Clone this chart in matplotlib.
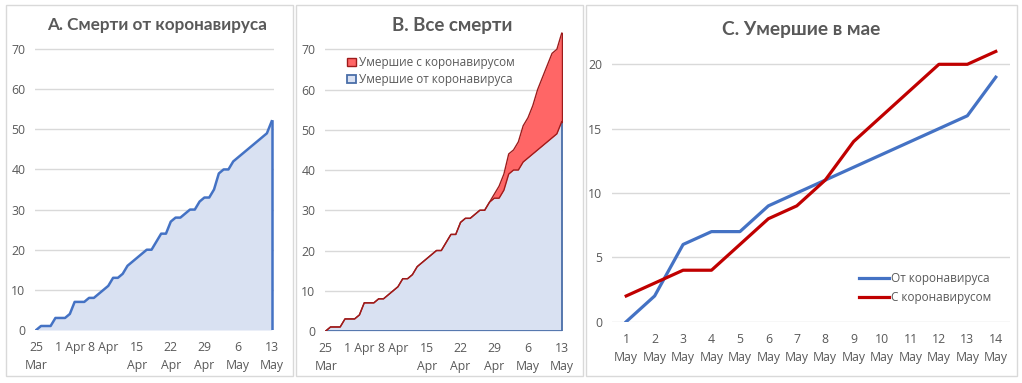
import matplotlib
matplotlib.use("Agg")
import matplotlib.pyplot as plt
from matplotlib.patches import Patch, Rectangle
from matplotlib.lines import Line2D
import numpy as np

# ---------------- data ----------------
# cumulative deaths "from coronavirus", daily 25 Mar .. 13 May
deaths_from = [0, 1, 1, 1, 3, 3, 3, 4, 7, 7, 7, 8, 8, 9, 10, 11, 13, 13, 14, 16,
               17, 18, 19, 20, 20, 22, 24, 24, 27, 28, 28, 29, 30, 30, 32, 33, 33, 35, 39, 40,
               40, 42, 43, 44, 45, 46, 47, 48, 49, 52]
# additional deaths "with coronavirus" (stacked on top in panel B)
deaths_with_extra = [0] * 35 + [1, 3, 4, 5, 5, 7, 9, 10, 12, 15, 17, 19, 21, 21, 22]
ab_tick_labels = ["25\nMar", "1 Apr", "8 Apr", "15\nApr", "22\nApr", "29\nApr", "6\nMay", "13\nMay"]

may_labels = [f"{d}\nMay" for d in range(1, 15)]
may_from = [0, 2, 6, 7, 7, 9, 10, 11, 12, 13, 14, 15, 16, 19]
may_with = [2, 3, 4, 4, 6, 8, 9, 11, 14, 16, 18, 20, 20, 21]

title_a = "A. Смерти от коронавируса"
title_b = "B. Все смерти"
title_c = "C. Умершие в мае"
legend_b = ["Умершие с коронавирусом", "Умершие от коронавируса"]
legend_c = ["От коронавируса", "С коронавирусом"]

# ---------------- style ----------------
W, H = 1022, 383
GRAY = "#595959"
GRID = "#D9D9D9"
BLUE = "#4472C4"
BLUE_FILL = "#D9E1F2"
BLUE_EDGE = "#4A6EA8"
RED_FILL = "#FF6666"
RED_EDGE = "#9E1B1B"
RED_LINE = "#C00000"
TICK_FONT = ["Open Sans", "DejaVu Sans"]
TITLE_FONT = ["Lato", "DejaVu Sans"]
TICK_SIZE = 8.8

fig = plt.figure(figsize=(W / 100, H / 100), dpi=100)


def ax_px(x0, x1, ytop, ybot):
    return fig.add_axes([x0 / W, 1 - ybot / H, (x1 - x0) / W, (ybot - ytop) / H])


def panel_border(x0, y0, x1, y1):
    fig.add_artist(Rectangle((x0 / W, 1 - y1 / H), (x1 - x0) / W, (y1 - y0) / H,
                             transform=fig.transFigure, fill=False, ec=GRID, lw=1.0))


def style_axes(ax, yticks):
    for s in ax.spines.values():
        s.set_visible(False)
    ax.set_yticks(yticks)
    ax.tick_params(length=0, colors=GRAY, labelsize=TICK_SIZE)
    ax.tick_params(axis="y", pad=7)
    ax.tick_params(axis="x", pad=8)
    for lbl in ax.get_xticklabels() + ax.get_yticklabels():
        lbl.set_fontfamily(TICK_FONT)
        lbl.set_color(GRAY)
    for lbl in ax.get_xticklabels():
        lbl.set_linespacing(1.5)
    for y in yticks:
        ax.axhline(y, color=GRID, lw=1.0, zorder=0)


panel_border(6, 5, 293, 376)
panel_border(296, 5, 583, 376)
panel_border(586, 5, 1017, 376)

x = np.arange(len(deaths_from))
tick_pos = x[::7]
blue = np.array(deaths_from)
top = blue + np.array(deaths_with_extra)

# ---------------- panel A ----------------
axA = ax_px(35, 274, 330 - 70.5 * 4.014, 330)
axA.set_xlim(-0.25, len(x) - 1 + 0.48)
axA.set_ylim(0, 70.5)
axA.fill_between(x, 0, blue, color=BLUE_FILL, lw=0, zorder=1)
axA.plot(x, blue, color=BLUE, lw=1.8, zorder=3, solid_joinstyle="round")
axA.plot([x[-1], x[-1]], [0, blue[-1]], color=BLUE, lw=1.8, zorder=3)
axA.set_xticks(tick_pos)
axA.set_xticklabels(ab_tick_labels)
style_axes(axA, np.arange(0, 71, 10))
fig.text(157 / W, 1 - 25 / H, title_a, ha="center", va="center", color=GRAY,
         fontsize=12.3, fontweight="bold", family=TITLE_FONT)

# ---------------- panel B ----------------
axB = ax_px(325, 563, 331 - 75 * 4.024, 331)
axB.set_xlim(-0.15, len(x) - 1 + 0.27)
axB.set_ylim(0, 75)
axB.fill_between(x, blue, top, color=RED_FILL, lw=0, zorder=1)
axB.fill_between(x, 0, blue, color=BLUE_FILL, lw=0, zorder=1)
axB.plot([x[0], x[-1], x[-1]], [0, 0, blue[-1]], color=BLUE_EDGE, lw=1.3, zorder=3)
axB.plot(x, blue, color=RED_EDGE, lw=1.0, zorder=4)
axB.plot(x, top, color=RED_EDGE, lw=1.0, zorder=4)
axB.plot([x[-1], x[-1]], [blue[-1], top[-1]], color=RED_EDGE, lw=1.0, zorder=4)
axB.set_xticks(tick_pos)
axB.set_xticklabels(ab_tick_labels)
style_axes(axB, np.arange(0, 71, 10))
fig.text(452 / W, 1 - 25 / H, title_b, ha="center", va="center", color=GRAY,
         fontsize=13.5, fontweight="bold", family=TITLE_FONT)
hB = [Patch(fc=RED_FILL, ec=RED_EDGE, lw=1.0), Patch(fc=BLUE_FILL, ec=BLUE_EDGE, lw=1.3)]
legB = fig.legend(hB, legend_b, loc="upper left", bbox_to_anchor=(347 / W, 1 - 56 / H),
                  frameon=False, borderpad=0, borderaxespad=0, handlelength=0.75,
                  handleheight=0.75, handletextpad=0.25, labelspacing=0.35,
                  prop={"family": TICK_FONT, "size": 8.5})
for t in legB.get_texts():
    t.set_color(GRAY)

# ---------------- panel C ----------------
xc = np.arange(1, len(may_labels) + 1)
axC = ax_px(612, 1010, 321.7 - 22 * 12.87, 321.7)
axC.set_xlim(0.5, len(xc) + 0.5)
axC.set_ylim(0, 22)
axC.plot(xc, may_from, color=BLUE, lw=2.3, zorder=3, solid_joinstyle="round")
axC.plot(xc, may_with, color=RED_LINE, lw=2.3, zorder=3, solid_joinstyle="round")
axC.set_xticks(xc)
axC.set_xticklabels(may_labels)
style_axes(axC, np.arange(0, 21, 5))
fig.text(801 / W, 1 - 30 / H, title_c, ha="center", va="center", color=GRAY,
         fontsize=13.8, fontweight="bold", family=TITLE_FONT)
hC = [Line2D([], [], color=BLUE, lw=2.3), Line2D([], [], color=RED_LINE, lw=2.3)]
legC = fig.legend(hC, legend_c, loc="upper left", bbox_to_anchor=(859 / W, 1 - 272 / H),
                  frameon=False, borderpad=0, borderaxespad=0, handlelength=2.5,
                  handletextpad=0.25, labelspacing=0.5,
                  prop={"family": TICK_FONT, "size": 8.5})
for t in legC.get_texts():
    t.set_color(GRAY)

fig.savefig("out.png", dpi=100, facecolor="white")
